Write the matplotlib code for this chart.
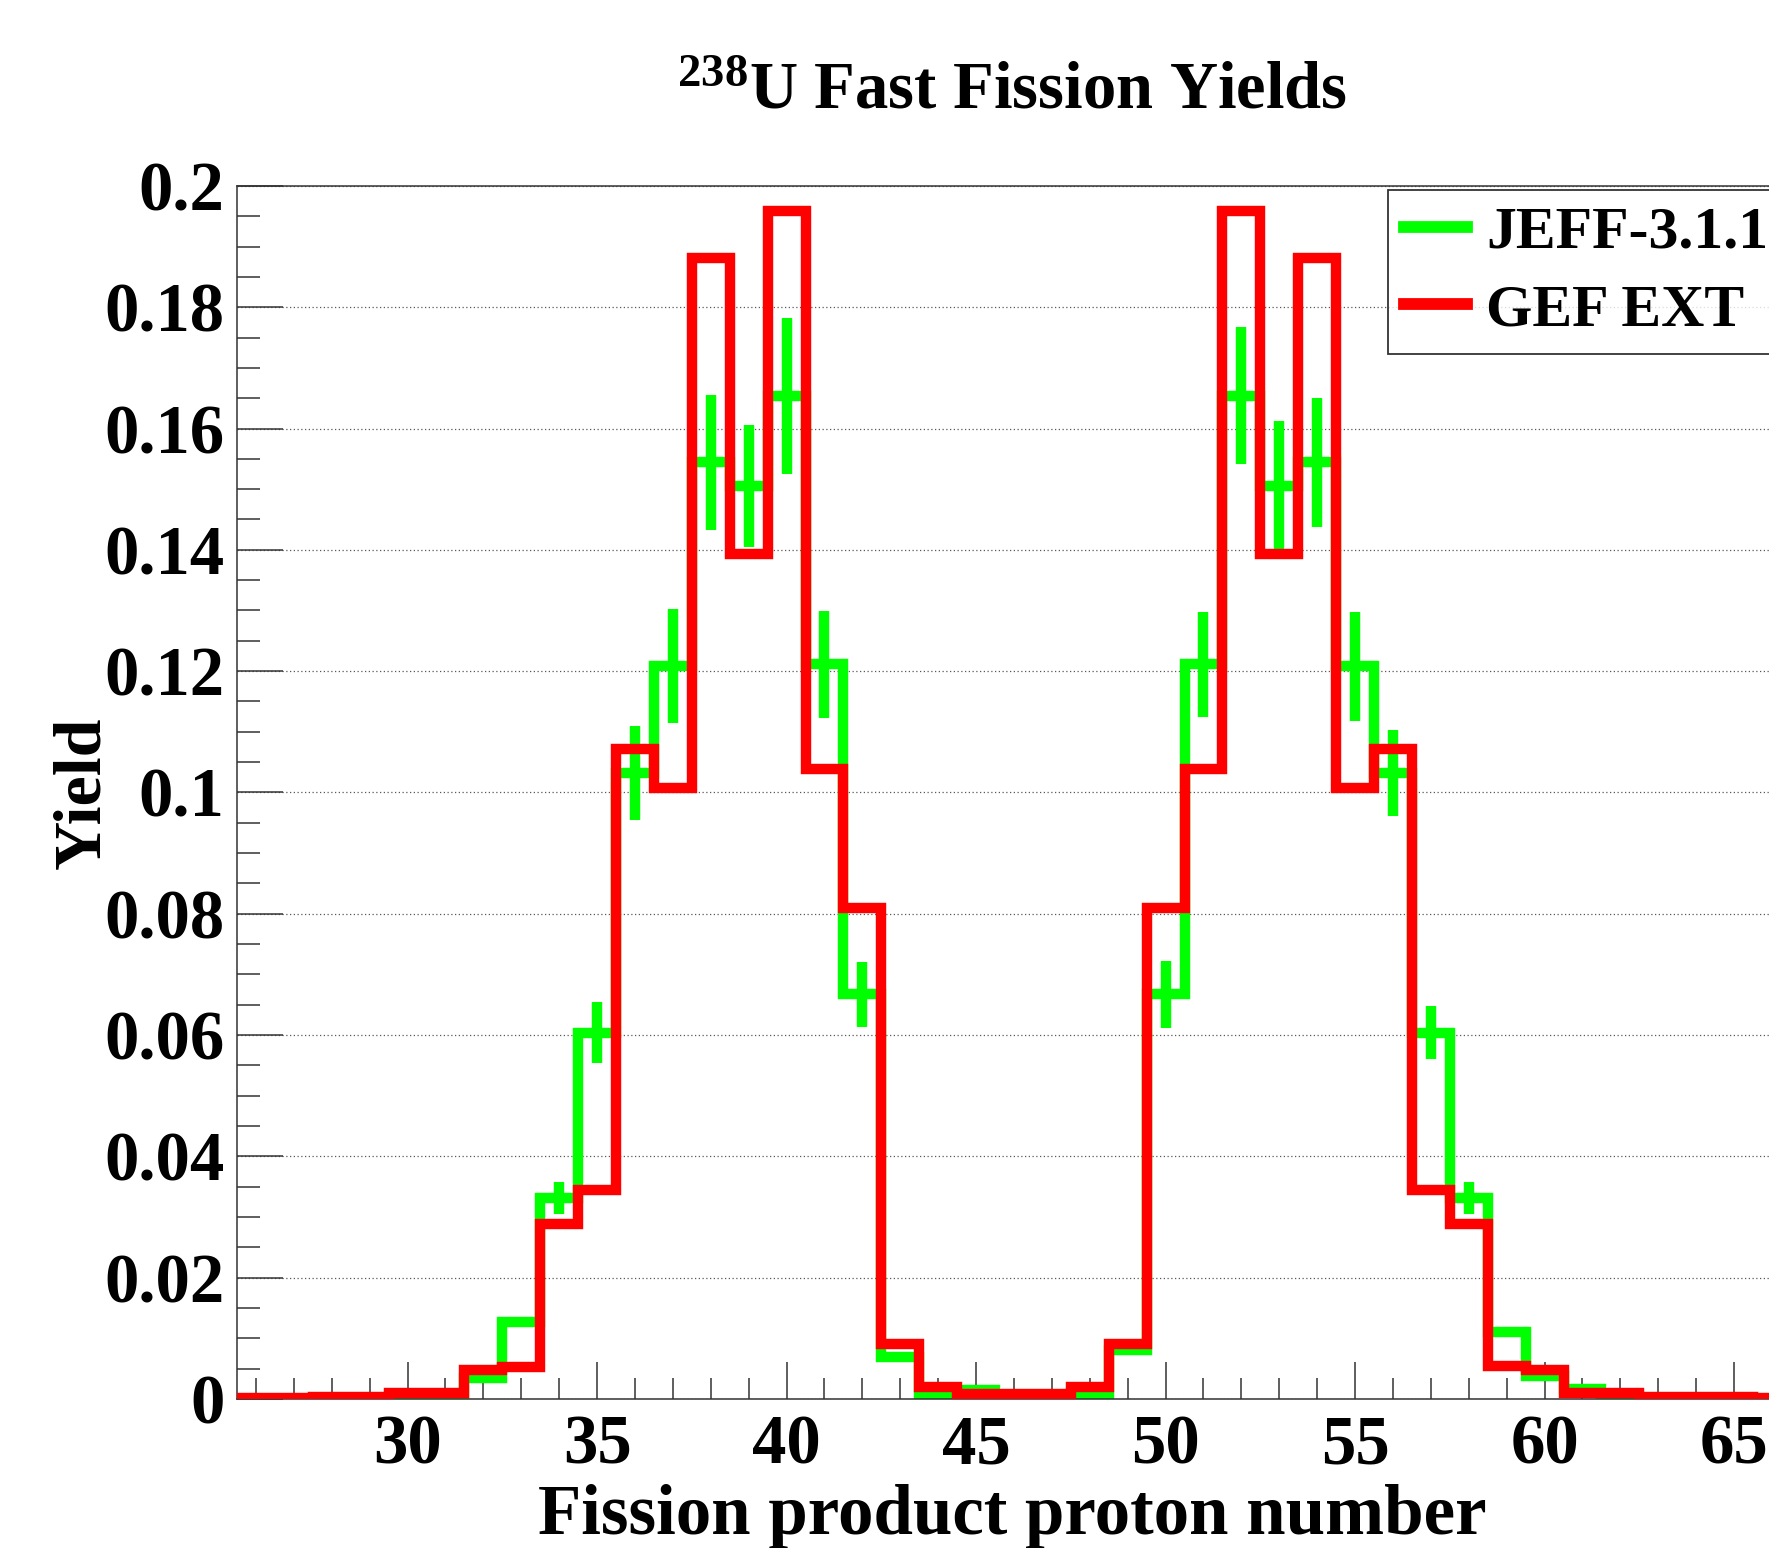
import matplotlib
matplotlib.use("Agg")
import matplotlib.pyplot as plt
import numpy as np
from matplotlib.ticker import FixedLocator, MultipleLocator

# proton number bins (centred on integers)
z = np.arange(26, 71)

jeff = [0.0, 0.0, 0.0, 0.0001, 0.0001, 0.0006, 0.0035, 0.0127, 0.0331, 0.0604,
        0.1032, 0.1208, 0.1544, 0.1505, 0.1654, 0.1211, 0.0667, 0.0069, 0.0007, 0.0014,
        0.0006, 0.0005, 0.0004, 0.0081, 0.0667, 0.1211, 0.1654, 0.1505, 0.1544, 0.1208,
        0.1032, 0.0604, 0.0331, 0.0111, 0.0037, 0.0016, 0.0002, 0.0001, 0.0, 0.0,
        0.0, 0.0, 0.0, 0.0, 0.0]
jeff_err = [0.0, 0.0, 0.0, 0.0, 0.0, 0.0, 0.0002, 0.0004, 0.0026, 0.0050,
            0.0077, 0.0094, 0.0112, 0.0100, 0.0129, 0.0088, 0.0054, 0.0004, 0.0001, 0.0001,
            0.0, 0.0, 0.0, 0.0004, 0.0055, 0.0086, 0.0113, 0.0107, 0.0107, 0.0090,
            0.0071, 0.0044, 0.0026, 0.0005, 0.0003, 0.0001, 0.0, 0.0, 0.0, 0.0,
            0.0, 0.0, 0.0, 0.0, 0.0]
gef = [0.0001, 0.0001, 0.0004, 0.0004, 0.0010, 0.0010, 0.0047, 0.0053, 0.0288, 0.0344,
       0.1071, 0.1007, 0.1881, 0.1393, 0.1958, 0.1039, 0.0810, 0.0090, 0.0019, 0.0008,
       0.0008, 0.0008, 0.0020, 0.0090, 0.0810, 0.1039, 0.1958, 0.1393, 0.1881, 0.1007,
       0.1071, 0.0344, 0.0288, 0.0054, 0.0048, 0.0009, 0.0009, 0.0004, 0.0004, 0.0003,
       0.0002, 0.0, 0.0, 0.0, 0.0]

yticks = [0, 0.02, 0.04, 0.06, 0.08, 0.1, 0.12, 0.14, 0.16, 0.18, 0.2]
ylabels = ['0', '0.02', '0.04', '0.06', '0.08', '0.1', '0.12', '0.14', '0.16', '0.18', '0.2']
xticks = [30, 35, 40, 45, 50, 55, 60, 65, 70]

plt.rcParams['font.family'] = ['Liberation Serif', 'DejaVu Serif']
plt.rcParams['font.weight'] = 'bold'
plt.rcParams['mathtext.fontset'] = 'custom'
plt.rcParams['mathtext.rm'] = 'Liberation Serif:bold'
plt.rcParams['mathtext.it'] = 'Liberation Serif:bold'
plt.rcParams['mathtext.default'] = 'rm'

edges = np.append(z - 0.5, z[-1] + 0.5)
green = '#00ff00'
red = '#ff0000'
axcol = '#333333'

fig = plt.figure(figsize=(17.69, 15.48), dpi=100)
ax = fig.add_axes([0.134, 0.0963, 0.9641, 0.7836])

g = ax.stairs(jeff, edges, baseline=None, color=green, lw=7.5, zorder=2, label='JEFF-3.1.1')
g.set_joinstyle('miter')
ax.errorbar(z, jeff, yerr=jeff_err, fmt='none', ecolor=green, elinewidth=7.5,
            capsize=0, zorder=2)
r = ax.stairs(gef, edges, baseline=None, color=red, lw=7.5, zorder=3, label='GEF EXT')
r.set_joinstyle('miter')

ax.set_xlim(25.5, 70.5)
ax.set_ylim(0, 0.2)

ax.yaxis.set_major_locator(FixedLocator(yticks))
ax.set_yticklabels(ylabels)
ax.yaxis.set_minor_locator(MultipleLocator(0.005))
ax.xaxis.set_major_locator(FixedLocator(xticks))
ax.xaxis.set_minor_locator(MultipleLocator(1))

ax.tick_params(axis='both', which='both', direction='in', color=axcol, width=1.1,
               labelsize=49.5, top=False, right=False)
ax.tick_params(axis='x', which='major', length=26.5, pad=11)
ax.tick_params(axis='x', which='minor', length=15)
ax.tick_params(axis='y', which='major', length=33, pad=9)
ax.tick_params(axis='y', which='minor', length=16.5)

ax.set_axisbelow(True)
ax.yaxis.grid(True, linestyle=(0, (1, 2)), color='0.35', linewidth=0.9)

for s in ax.spines.values():
    s.set_color(axcol)
    s.set_linewidth(1.1)

leg = ax.legend(loc='upper left', bbox_to_anchor=(0.7846, 0.8773),
                bbox_transform=fig.transFigure, fontsize=43, frameon=True,
                fancybox=False, edgecolor='black', handlelength=1.05,
                handletextpad=0.33, borderpad=0.27, labelspacing=0.38,
                borderaxespad=0)
leg.get_frame().set_linewidth(1.3)
for ln in leg.get_lines():
    ln.set_linewidth(8.5)

fig.text(0.572, 0.930, r'$^{238}$U Fast Fission Yields', ha='center', va='baseline',
         fontsize=48, fontweight='bold')
fig.text(0.5725, 0.009, 'Fission product proton number', ha='center', va='baseline',
         fontsize=51, fontweight='bold')
fig.text(0.047, 0.488, 'Yield', ha='center', va='center', rotation=90,
         fontsize=49, fontweight='bold')

fig.savefig('out.png', dpi=100)
